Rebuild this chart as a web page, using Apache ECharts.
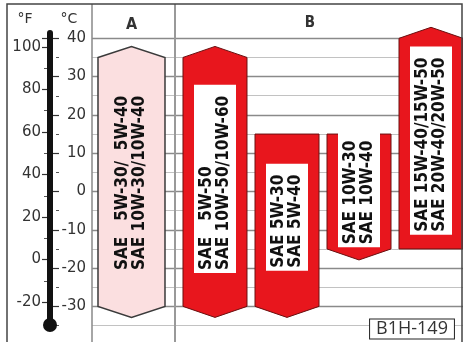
<!DOCTYPE html>
<html>
<head>
<meta charset="utf-8">
<script src="https://cdn.jsdelivr.net/npm/echarts@6/dist/echarts.min.js"></script>
<style>
html,body{margin:0;padding:0;background:#fff;}
#chart{width:463px;height:342px;}
</style>
</head>
<body>
<div id="chart"></div>
<script>
// ---- data ----
var categories = ['A', 'B1', 'B2', 'B3', 'B4'];
var groups     = ['A', 'B', 'B', 'B', 'B'];
var lowTemps   = [-30, -30, -30, -15, -15];   // °C, lower end of range
var highTemps  = [35, 35, 15, 15, 40];        // °C, upper end of range
var arrowLow   = [true, true, true, true, false];
var arrowHigh  = [true, true, false, false, true];
var line1 = ['SAE \u20075W-30/\u20075W-40', 'SAE \u20075W-50', 'SAE 5W-30', 'SAE 10W-30', 'SAE 15W-40/15W-50'];
var line2 = ['SAE 10W-30/10W-40', 'SAE 10W-50/10W-60', 'SAE 5W-40', 'SAE 10W-40', 'SAE 20W-40/20W-50'];
var groupLabels = ['A', 'B'];
var celsiusRange = [-40, 40];
var celsiusStep = 10;
var fahrenheitStep = 20;
var figureCode = 'B1H-149';

// ---- layout / style constants ----
var BAR_W = 64, ARROW_H = 11, A_SHIFT = -11.5;
var LABEL_FONT = 'bold 17px "DejaVu Sans Condensed", "Liberation Sans Narrow", sans-serif';
var LINE_H = 17;
var PAD = [4, 11, 4, 3];

var measureCtx = document.createElement('canvas').getContext('2d');
measureCtx.font = LABEL_FONT;
function textW(s) { return measureCtx.measureText(s).width; }

function c2f(c) { return c * 1.8 + 32; }

var chart = echarts.init(document.getElementById('chart'), null, {renderer: 'canvas'});

var seriesData = categories.map(function (c, i) { return [i, lowTemps[i], highTemps[i]]; });

function renderItem(params, api) {
  var i = params.dataIndex;
  var idx = api.value(0), lo = api.value(1), hi = api.value(2);
  var xc = api.coord([idx, 0])[0] + (groups[i] === 'A' ? A_SHIFT : 0);
  var yHi = api.coord([idx, hi])[1], yLo = api.coord([idx, lo])[1];
  var hw = (groups[i] === 'A' ? 67 : BAR_W) / 2;
  var pts = [];
  pts.push([xc - hw, yHi]);
  if (arrowHigh[i]) pts.push([xc, yHi - ARROW_H]);
  pts.push([xc + hw, yHi]);
  pts.push([xc + hw, yLo]);
  if (arrowLow[i]) pts.push([xc, yLo + ARROW_H]);
  pts.push([xc - hw, yLo]);
  var isA = groups[i] === 'A';
  var w = Math.max(textW(line1[i]), textW(line2[i]));
  var boxLen = w + PAD[1] + PAD[3];
  var cy = (yHi + yLo) / 2;
  return {
    type: 'group',
    children: [
      {
        type: 'polygon',
        shape: {points: pts},
        style: {
          fill: isA ? '#fbdfe0' : '#e8161d',
          stroke: isA ? '#3a3a3a' : '#6a1010',
          lineWidth: isA ? 1.5 : 1
        }
      },
      {
        type: 'text',
        x: xc,
        y: cy + boxLen / 2 - PAD[3],
        rotation: Math.PI / 2,
        z2: 10,
        style: {
          text: line1[i] + '\n' + line2[i],
          font: LABEL_FONT,
          lineHeight: LINE_H,
          fill: '#111',
          align: 'left',
          verticalAlign: 'middle',
          backgroundColor: isA ? 'transparent' : '#ffffff',
          padding: PAD
        }
      }
    ]
  };
}

var option = {
  backgroundColor: '#ffffff',
  animation: false,
  grid: {left: 92, right: 0, top: 38.3, height: 306.4, outerBoundsMode: 'none', containLabel: false},
  xAxis: {
    type: 'value', min: -0.7083, max: 4.4444,
    show: false, splitLine: {show: false}
  },
  yAxis: [
    {
      type: 'value', position: 'left', offset: 33,
      min: celsiusRange[0], max: celsiusRange[1], interval: celsiusStep,
      axisLine: {show: false, onZero: false},
      axisTick: {show: true, inside: false, length: 6, lineStyle: {color: '#333', width: 1.2}},
      minorTick: {show: true, splitNumber: 2, length: 3, lineStyle: {color: '#555'}},
      axisLabel: {
        align: 'right', margin: -27,
        color: '#333', fontSize: 15, fontFamily: 'DejaVu Sans',
        showMinLabel: false
      },
      splitLine: {show: true, lineStyle: {color: '#8a8a8a', width: 1.3}},
      minorSplitLine: {show: true, lineStyle: {color: '#c2c2c2', width: 1}}
    },
    {
      type: 'value', position: 'left', offset: 45,
      min: c2f(celsiusRange[0]), max: c2f(celsiusRange[1]), interval: fahrenheitStep,
      axisLine: {show: false, onZero: false},
      axisTick: {show: true, inside: false, length: 5, lineStyle: {color: '#333', width: 1.2}},
      minorTick: {show: true, splitNumber: 2, length: 3, lineStyle: {color: '#555'}},
      axisLabel: {
        margin: 6, color: '#333', fontSize: 15, fontFamily: 'DejaVu Sans',
        showMinLabel: false, showMaxLabel: false
      },
      splitLine: {show: false}
    }
  ],
  graphic: [
    {type: 'rect', shape: {x: 7, y: 4, width: 455, height: 350}, style: {fill: 'none', stroke: '#444', lineWidth: 1.5}, z: 100},
    {type: 'line', shape: {x1: 92, y1: 4, x2: 92, y2: 342}, style: {stroke: '#888', lineWidth: 1.5}, z: 1},
    {type: 'line', shape: {x1: 175, y1: 4, x2: 175, y2: 342}, style: {stroke: '#999', lineWidth: 2}, z: 1},
    {type: 'text', x: 131.5, y: 25, style: {text: groupLabels[0], font: 'bold 16px "DejaVu Sans Condensed", sans-serif', fill: '#333', align: 'center', verticalAlign: 'middle'}},
    {type: 'text', x: 310, y: 23, style: {text: groupLabels[1], font: 'bold 15px "DejaVu Sans Condensed", sans-serif', fill: '#333', align: 'center', verticalAlign: 'middle'}},
    {type: 'text', x: 25, y: 19, style: {text: '°F', font: '14px "DejaVu Sans"', fill: '#333', align: 'center', verticalAlign: 'middle'}},
    {type: 'text', x: 69, y: 19, style: {text: '°C', font: '14px "DejaVu Sans"', fill: '#333', align: 'center', verticalAlign: 'middle'}},
    {type: 'rect', shape: {x: 47, y: 30, width: 6, height: 292, r: 3}, style: {fill: '#111'}, z: 50},
    {type: 'circle', shape: {cx: 50, cy: 325, r: 7}, style: {fill: '#111'}, z: 50},
    {type: 'text', x: 412, y: 329, z: 120, style: {text: figureCode, font: '18px "Open Sans", sans-serif', fill: '#333', align: 'center', verticalAlign: 'middle', backgroundColor: '#fff', borderColor: '#222', borderWidth: 1, padding: [1, 6, 0, 6]}}
  ],
  series: [{
    type: 'custom',
    renderItem: renderItem,
    clip: false,
    data: seriesData,
    z: 5
  }]
};
chart.setOption(option);
</script>
</body>
</html>
